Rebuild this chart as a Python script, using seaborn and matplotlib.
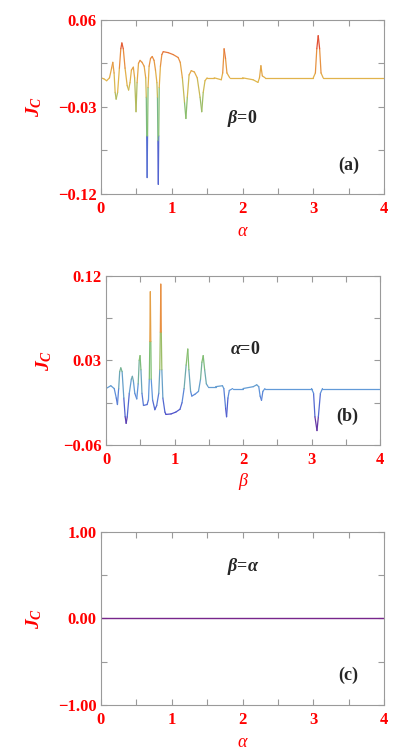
import numpy as np
import pandas as pd
import matplotlib.pyplot as plt
import seaborn as sns
from matplotlib.colors import LinearSegmentedColormap

# panel (a): J_C versus alpha, beta = 0
alpha_a = [0.00, 0.04, 0.08, 0.12, 0.15, 0.167, 0.185, 0.20, 0.214, 0.235,
           0.26, 0.28, 0.295, 0.315, 0.34, 0.37, 0.39, 0.41, 0.43, 0.457,
           0.475, 0.495, 0.51, 0.53, 0.552, 0.58, 0.61, 0.632, 0.640, 0.646,
           0.652, 0.658, 0.665, 0.68, 0.70, 0.724, 0.75, 0.77, 0.79, 0.798,
           0.804, 0.81, 0.816, 0.823, 0.84, 0.86, 0.88, 0.95, 1.02, 1.09,
           1.12, 1.15, 1.18, 1.20, 1.22, 1.245, 1.276, 1.32, 1.36, 1.40,
           1.424, 1.445, 1.47, 1.50, 1.60, 1.70, 1.72, 1.74, 1.76, 1.78,
           1.82, 2.00, 2.15, 2.218, 2.24, 2.26, 2.28, 2.32, 3.00, 3.03,
           3.05, 3.07, 3.09, 3.11, 3.14, 4.00]
jc_a = [0.000, -0.001, -0.003, 0.000, 0.010, 0.016, 0.005, -0.015, -0.022, -0.015,
        0.010, 0.030, 0.036, 0.030, 0.010, -0.008, -0.0126, -0.005, 0.008, 0.011,
        0.000, -0.035, -0.005, 0.015, 0.018, 0.016, 0.012, 0.000, -0.020, -0.060,
        -0.103, -0.060, -0.010, 0.012, 0.020, 0.022, 0.018, 0.008, -0.005, -0.020,
        -0.065, -0.110, -0.060, -0.010, 0.012, 0.024, 0.027, 0.026, 0.024, 0.021,
        0.016, 0.000, -0.025, -0.042, -0.020, 0.003, 0.0074, 0.006, 0.000, -0.020,
        -0.035, -0.015, -0.003, 0.000, 0.000, -0.002, 0.005, 0.030, 0.020, 0.005,
        0.000, 0.000, -0.002, -0.0047, 0.000, 0.0125, 0.002, 0.000, 0.000, 0.005,
        0.030, 0.0435, 0.030, 0.005, 0.000, 0.000]

# panel (b): J_C versus beta, alpha = 0
beta_b = [0.00, 0.07, 0.12, 0.15, 0.167, 0.185, 0.20, 0.216, 0.235, 0.26,
          0.28, 0.294, 0.31, 0.34, 0.37, 0.385, 0.40, 0.42, 0.449, 0.47,
          0.485, 0.497, 0.51, 0.525, 0.547, 0.60, 0.62, 0.632, 0.640, 0.647,
          0.654, 0.66, 0.68, 0.713, 0.74, 0.77, 0.785, 0.793, 0.80, 0.807,
          0.815, 0.83, 0.86, 0.875, 0.95, 1.02, 1.08, 1.11, 1.14, 1.17,
          1.194, 1.21, 1.235, 1.253, 1.30, 1.35, 1.38, 1.40, 1.419, 1.44,
          1.465, 1.49, 1.60, 1.70, 1.72, 1.745, 1.76, 1.78, 1.80, 1.85,
          2.00, 2.15, 2.20, 2.23, 2.25, 2.27, 2.29, 2.32, 3.00, 3.03,
          3.05, 3.08, 3.10, 3.13, 3.16, 4.00]
jc_b = [0.000, 0.003, 0.000, -0.010, -0.017, 0.000, 0.018, 0.022, 0.018, -0.010,
        -0.030, -0.037, -0.030, -0.005, 0.010, 0.013, 0.008, -0.005, -0.011, 0.005,
        0.030, 0.035, 0.020, -0.005, -0.018, -0.017, -0.012, 0.010, 0.050, 0.103,
        0.050, 0.010, -0.012, -0.0225, -0.018, -0.005, 0.020, 0.060, 0.111, 0.060,
        0.020, -0.010, -0.025, -0.0275, -0.027, -0.025, -0.022, -0.015, 0.000, 0.025,
        0.042, 0.020, -0.003, -0.008, -0.006, -0.003, 0.010, 0.028, 0.035, 0.020,
        0.005, 0.002, 0.002, 0.003, 0.000, -0.020, -0.030, -0.010, -0.002, 0.000,
        0.000, 0.002, 0.004, 0.002, -0.008, -0.0125, -0.003, 0.000, 0.000, -0.005,
        -0.030, -0.0447, -0.030, -0.005, 0.000, 0.000]

# panel (c): J_C versus alpha, beta = alpha
alpha_c = [0.0, 0.5, 1.0, 1.5, 2.0, 2.5, 3.0, 3.5, 4.0]
jc_c = [0.0, 0.0, 0.0, 0.0, 0.0, 0.0, 0.0, 0.0, 0.0]

x_ticks = [0, 0.5, 1, 1.5, 2, 2.5, 3, 3.5, 4]
x_tick_labels = ["0", "", "1", "", "2", "", "3", "", "4"]
y_ticks_a = [-0.12, -0.075, -0.03, 0.015, 0.06]
y_labels_a = ["\u22120.12", "", "\u22120.03", "", "0.06"]
y_ticks_b = [-0.06, -0.015, 0.03, 0.075, 0.12]
y_labels_b = ["\u22120.06", "", "0.03", "", "0.12"]
y_ticks_c = [-1.0, -0.5, 0.0, 0.5, 1.0]
y_labels_c = ["\u22121.00", "", "0.00", "", "1.00"]

sns.set_style("ticks")
plt.rcParams["font.family"] = ["Liberation Serif", "DejaVu Serif"]
plt.rcParams["font.weight"] = "bold"
plt.rcParams["mathtext.fontset"] = "custom"
plt.rcParams["mathtext.it"] = "Liberation Serif:italic:bold"
plt.rcParams["mathtext.rm"] = "Liberation Serif:bold"
plt.rcParams["mathtext.bf"] = "Liberation Serif:bold"

rainbow = LinearSegmentedColormap.from_list("rainbow_mma", [
    (0.00, (0.45, 0.15, 0.55)),
    (0.12, (0.30, 0.32, 0.80)),
    (0.28, (0.38, 0.60, 0.86)),
    (0.48, (0.50, 0.75, 0.45)),
    (0.70, (0.88, 0.72, 0.30)),
    (0.85, (0.91, 0.55, 0.25)),
    (1.00, (0.88, 0.22, 0.18)),
])

FRAME = "#9a9a9a"


def segment_frame(x, y):
    # each pair of neighbouring points becomes one short line, coloured by its mean value
    rows = []
    for i in range(len(x) - 1):
        level = 0.5 * (y[i] + y[i + 1])
        rows.append((x[i], y[i], i, level))
        rows.append((x[i + 1], y[i + 1], i, level))
    return pd.DataFrame(rows, columns=["x", "y", "seg", "level"])


def draw_colored(ax, x, y):
    df = segment_frame(x, y)
    sns.lineplot(data=df, x="x", y="y", units="seg", hue="level", estimator=None,
                 sort=False, palette=rainbow, hue_norm=(min(y), max(y)),
                 legend=False, lw=0.9, ax=ax)


def style_axes(ax, y_ticks, y_labels, xlab, label_x):
    ax.set_xlim(0, 4)
    ax.set_ylim(y_ticks[0], y_ticks[-1])
    ax.set_xticks(x_ticks)
    ax.set_xticklabels(x_tick_labels)
    ax.set_yticks(y_ticks)
    ax.set_yticklabels(y_labels)
    ax.tick_params(direction="in", top=True, right=True, length=4, width=0.8,
                   color=FRAME, labelcolor="red", labelsize=12)
    ax.tick_params(axis="x", pad=5)
    ax.tick_params(axis="y", pad=3)
    for s in ax.spines.values():
        s.set_color(FRAME)
        s.set_linewidth(0.8)
    ax.set_xlabel(xlab, color="red", fontsize=13, fontstyle="italic", fontweight="normal")
    ax.xaxis.set_label_coords(0.5, -0.165)
    ax.set_ylabel(r"$J_C$", color="red", fontsize=14)
    ax.yaxis.set_label_coords(label_x, 0.5)


fig = plt.figure(figsize=(4.17, 7.5), dpi=100)
ax_a = fig.add_axes([0.2422, 0.7413, 0.6787, 0.2324])
ax_b = fig.add_axes([0.2542, 0.4067, 0.6571, 0.2257])
ax_c = fig.add_axes([0.2422, 0.0600, 0.6787, 0.2311])

draw_colored(ax_a, alpha_a, jc_a)
style_axes(ax_a, y_ticks_a, y_labels_a, "\u03b1", -0.20)
ax_a.text(1.99, -0.042, r"$\beta$=0", fontsize=13, ha="center", va="center")
ax_a.text(3.5, -0.09, "(a)", fontsize=13, ha="center", va="center")

draw_colored(ax_b, beta_b, jc_b)
style_axes(ax_b, y_ticks_b, y_labels_b, "\u03b2", -0.19)
ax_b.text(2.03, 0.041, r"$\alpha$=0", fontsize=13, ha="center", va="center")
ax_b.text(3.52, -0.030, "(b)", fontsize=13, ha="center", va="center")

sns.lineplot(x=alpha_c, y=jc_c, color=(0.47, 0.15, 0.55), lw=1.0, ax=ax_c)
style_axes(ax_c, y_ticks_c, y_labels_c, "\u03b1", -0.20)
ax_c.text(2.01, 0.6, r"$\beta$=$\alpha$", fontsize=13, ha="center", va="center")
ax_c.text(3.5, -0.654, "(c)", fontsize=13, ha="center", va="center")

fig.savefig("out.png", dpi=100)
